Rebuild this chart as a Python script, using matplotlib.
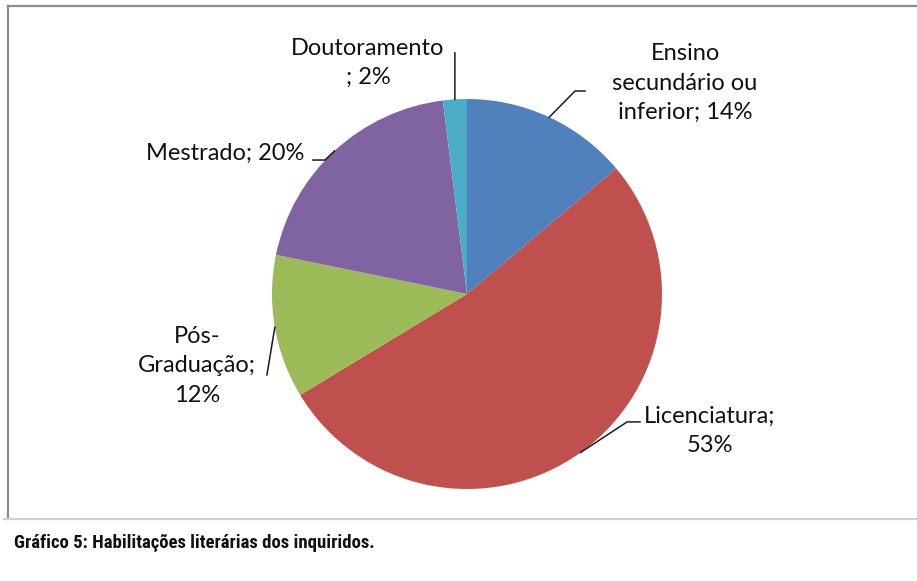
import numpy as np
import matplotlib
matplotlib.use("Agg")
import matplotlib.pyplot as plt
from matplotlib.lines import Line2D

# Dados do gráfico
categorias = ["Ensino\nsecundário ou\ninferior; 14%", "Licenciatura;\n53%", "Pós-\nGraduação;\n12%",
              "Mestrado; 20%", "Doutoramento\n; 2%"]
valores = [14, 53, 12, 20, 2]
cores = ["#4F81BD", "#C0504D", "#9BBB59", "#8064A2", "#4BACC6"]
titulo = "Gráfico 5: Habilitações literárias dos inquiridos."

W, H = 917, 581
fig = plt.figure(figsize=(W / 100, H / 100), dpi=100)

# moldura (topo, esquerda) e separador da legenda
fig.add_artist(Line2D([8 / W, 1], [1 - 6 / H, 1 - 6 / H], color="#8c8c8c", lw=1.6))
fig.add_artist(Line2D([8 / W, 8 / W], [1 - 6 / H, 1 - 519 / H], color="#8c8c8c", lw=1.6))
fig.add_artist(Line2D([4 / W, 1], [1 - 519 / H, 1 - 519 / H], color="#cfcfcf", lw=1.6))

# eixo do gráfico circular (centro 467,294 px, raio 195 px)
cx, cy, r = 467, 294, 195
ax = fig.add_axes([(cx - r) / W, (H - cy - r) / H, 2 * r / W, 2 * r / H])

wedges, _ = ax.pie(valores, colors=cores, startangle=90, counterclock=False, radius=1,
                   wedgeprops=dict(linewidth=0))
# pie() mexe nos limites, repor depois
ax.set_xlim(-1, 1)
ax.set_ylim(-1, 1)
ax.axis("off")

font = ["Lato", "DejaVu Sans"]
# posição dos rótulos (unidades do eixo) e pontos do conector
rotulos = [
    dict(xy=(1.118, 1.082), pts=[(0.605, 1.041), (0.554, 1.041)]),
    dict(xy=(1.246, -0.703), pts=[(0.887, -0.656), (0.821, -0.656)]),
    dict(xy=(-1.385, -0.369), pts=[(-1.026, -0.415)]),
    dict(xy=(-1.241, 0.723), pts=[(-0.79, 0.687), (-0.728, 0.687)]),
    dict(xy=(-0.508, 1.185), pts=[(-0.062, 1.236)]),
]

for w, lab, rot in zip(wedges, categorias, rotulos):
    ang = np.deg2rad((w.theta1 + w.theta2) / 2)
    edge = (np.cos(ang), np.sin(ang))
    xs = [p[0] for p in rot["pts"]] + [edge[0]]
    ys = [p[1] for p in rot["pts"]] + [edge[1]]
    ax.plot(xs, ys, color="#1a1a1a", lw=1.1, clip_on=False)
    ax.text(rot["xy"][0], rot["xy"][1], lab, ha="center", va="center", multialignment="center",
            fontsize=17, family=font, color="#111111", linespacing=1.5, clip_on=False)

fig.text(14 / W, 1 - 543 / H, titulo, ha="left", va="center", fontsize=13.5, fontweight="bold",
         family=["Roboto Condensed", "Roboto", "DejaVu Sans"], color="#111111")

fig.savefig("out.png", dpi=100)
